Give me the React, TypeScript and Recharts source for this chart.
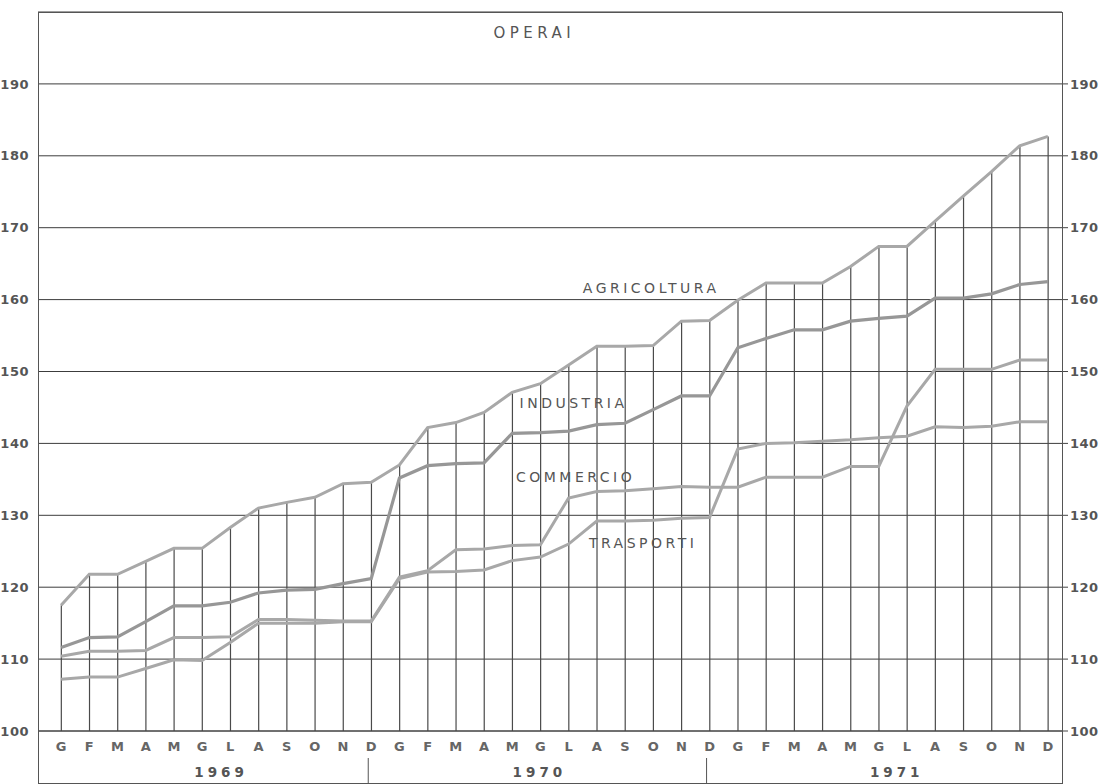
import {
  ComposedChart,
  Line,
  Bar,
  XAxis,
  YAxis,
  CartesianGrid,
  ReferenceDot,
} from "recharts";

// mesi in italiano, 1969-1971
const months = ["G", "F", "M", "A", "M", "G", "L", "A", "S", "O", "N", "D"];
const years = ["1969", "1970", "1971"];

const agricoltura = [
  117.5, 121.8, 121.8, 123.6, 125.4, 125.4, 128.3, 131.0, 131.8, 132.5, 134.4, 134.6,
  137.0, 142.2, 142.9, 144.3, 147.1, 148.3, 150.9, 153.5, 153.5, 153.6, 157.0, 157.1,
  159.9, 162.3, 162.3, 162.3, 164.6, 167.4, 167.4, 170.9, 174.4, 177.8, 181.4, 182.7,
];
const industria = [
  111.6, 113.0, 113.1, 115.2, 117.4, 117.4, 117.9, 119.2, 119.6, 119.7, 120.5, 121.2,
  135.2, 136.9, 137.2, 137.3, 141.4, 141.5, 141.7, 142.6, 142.8, 144.7, 146.6, 146.6,
  153.3, 154.6, 155.8, 155.8, 157.0, 157.4, 157.7, 160.2, 160.2, 160.8, 162.1, 162.5,
];
const commercio = [
  110.4, 111.1, 111.1, 111.2, 113.0, 113.0, 113.1, 115.5, 115.5, 115.4, 115.3, 115.3,
  121.4, 122.3, 125.2, 125.3, 125.8, 125.9, 132.4, 133.3, 133.4, 133.7, 134.0, 133.9,
  133.9, 135.3, 135.3, 135.3, 136.8, 136.8, 145.2, 150.3, 150.3, 150.3, 151.6, 151.6,
];
const trasporti = [
  107.2, 107.5, 107.5, 108.7, 109.9, 109.8, 112.3, 115.0, 115.0, 115.0, 115.2, 115.2,
  121.2, 122.1, 122.2, 122.4, 123.7, 124.2, 126.0, 129.2, 129.2, 129.3, 129.6, 129.7,
  139.2, 140.0, 140.1, 140.3, 140.5, 140.8, 141.0, 142.3, 142.2, 142.4, 143.0, 143.0,
];
const yTicks = [100, 110, 120, 130, 140, 150, 160, 170, 180, 190];

// testi sul grafico, ancorati a un mese e a un valore
const annotations = [
  { text: "OPERAI", at: "1970-6", value: 197.1, dx: -6 },
  { text: "AGRICOLTURA", at: "1970-10", value: 161.6, dx: -2 },
  { text: "INDUSTRIA", at: "1970-7", value: 145.6, dx: 5 },
  { text: "COMMERCIO", at: "1970-7", value: 135.3, dx: 7 },
  { text: "TRASPORTI", at: "1970-10", value: 126.1, dx: -10 },
];

const periods = years.flatMap((y) => months.map((_, i) => `${y}-${i + 1}`));
const data = periods.map((p, i) => ({
  period: p,
  agricoltura: agricoltura[i],
  industria: industria[i],
  commercio: commercio[i],
  trasporti: trasporti[i],
}));

const textColor = "#555";
const lineColor = "#a8a8a8";
const yearShift: Record<string, number> = { "1969": 19, "1970": -1, "1971": 18 };

function MonthTick({ x, y, payload }: any) {
  const [year, m] = String(payload.value).split("-");
  const mi = Number(m) - 1;
  return (
    <g>
      <text
        x={x}
        y={y + 20}
        textAnchor="middle"
        fontSize={13}
        fontWeight={600}
        fill="#666"
      >
        {months[mi]}
      </text>
      {mi === 5 && (
        <text
          x={x + yearShift[year]}
          y={y + 46}
          textAnchor="middle"
          fontSize={13.5}
          fontWeight={600}
          letterSpacing={4}
          fill={textColor}
        >
          {year}
        </text>
      )}
      {mi === 11 && year !== "1971" && (
        <line x1={x - 3} x2={x - 3} y1={y + 27} y2={y + 53} stroke="#555" />
      )}
    </g>
  );
}

function DropLine({ x, y, width, height }: any) {
  const cx = x + width / 2;
  return <line x1={cx} x2={cx} y1={y} y2={y + height} stroke="#4a4a4a" strokeWidth={1.2} />;
}

export default function App() {
  return (
    <div style={{ position: "absolute", left: 0, top: 0, width: 1101, height: 784, background: "#fff" }}>
      <ComposedChart
        width={1101}
        height={784}
        data={data}
        margin={{ top: 12, right: 0, bottom: 0, left: 0 }}
        barCategoryGap="10%"
        style={{ fontFamily: "'DejaVu Sans', sans-serif" }}
      >
        <CartesianGrid horizontal vertical={false} stroke="#3c3c3c" strokeWidth={1} />
        <XAxis
          dataKey="period"
          height={53}
          interval={0}
          padding={{ left: 9, right: 0 }}
          tickLine={false}
          tickSize={0}
          tickMargin={0}
          axisLine={{ stroke: "#444" }}
          tick={<MonthTick />}
        />
        <YAxis
          domain={[100, 200]}
          ticks={yTicks}
          width={38}
          axisLine={false}
          tickLine={false}
          tickMargin={3}
          tick={{ fontSize: 13, fontWeight: 600, fill: textColor, letterSpacing: 0.5 }}
          allowDataOverflow
        />
        <YAxis
          yAxisId="right"
          orientation="right"
          domain={[100, 200]}
          ticks={yTicks}
          width={39}
          axisLine={false}
          tickLine={{ stroke: "#444" }}
          tickSize={6}
          tickMargin={2}
          tick={{ fontSize: 13, fontWeight: 600, fill: textColor, letterSpacing: 0.5, textAnchor: "start" }}
          allowDataOverflow
        />
        <Bar dataKey="agricoltura" shape={<DropLine />} isAnimationActive={false} />
        <Line type="linear" dataKey="trasporti" stroke={lineColor} strokeWidth={3} dot={false} isAnimationActive={false} />
        <Line type="linear" dataKey="commercio" stroke={lineColor} strokeWidth={3} dot={false} isAnimationActive={false} />
        <Line type="linear" dataKey="industria" stroke="#979797" strokeWidth={3.2} dot={false} isAnimationActive={false} />
        <Line type="linear" dataKey="agricoltura" stroke={lineColor} strokeWidth={3} dot={false} isAnimationActive={false} />
        {annotations.map((a) => (
          <ReferenceDot
            key={a.text}
            x={a.at}
            y={a.value}
            r={0}
            shape={(p: any) => (
              <text
                x={p.cx + a.dx}
                y={p.cy}
                dy="0.35em"
                textAnchor="middle"
                fontSize={a.text === "OPERAI" ? 15 : 14}
                letterSpacing={a.text === "OPERAI" ? 4.5 : 3.5}
                fill={textColor}
              >
                {a.text}
              </text>
            )}
          />
        ))}
      </ComposedChart>
      <div
        style={{
          position: "absolute",
          left: 38,
          top: 12,
          width: 1025,
          height: 772,
          boxSizing: "border-box",
          border: "1px solid #555",
          pointerEvents: "none",
        }}
      />
    </div>
  );
}
